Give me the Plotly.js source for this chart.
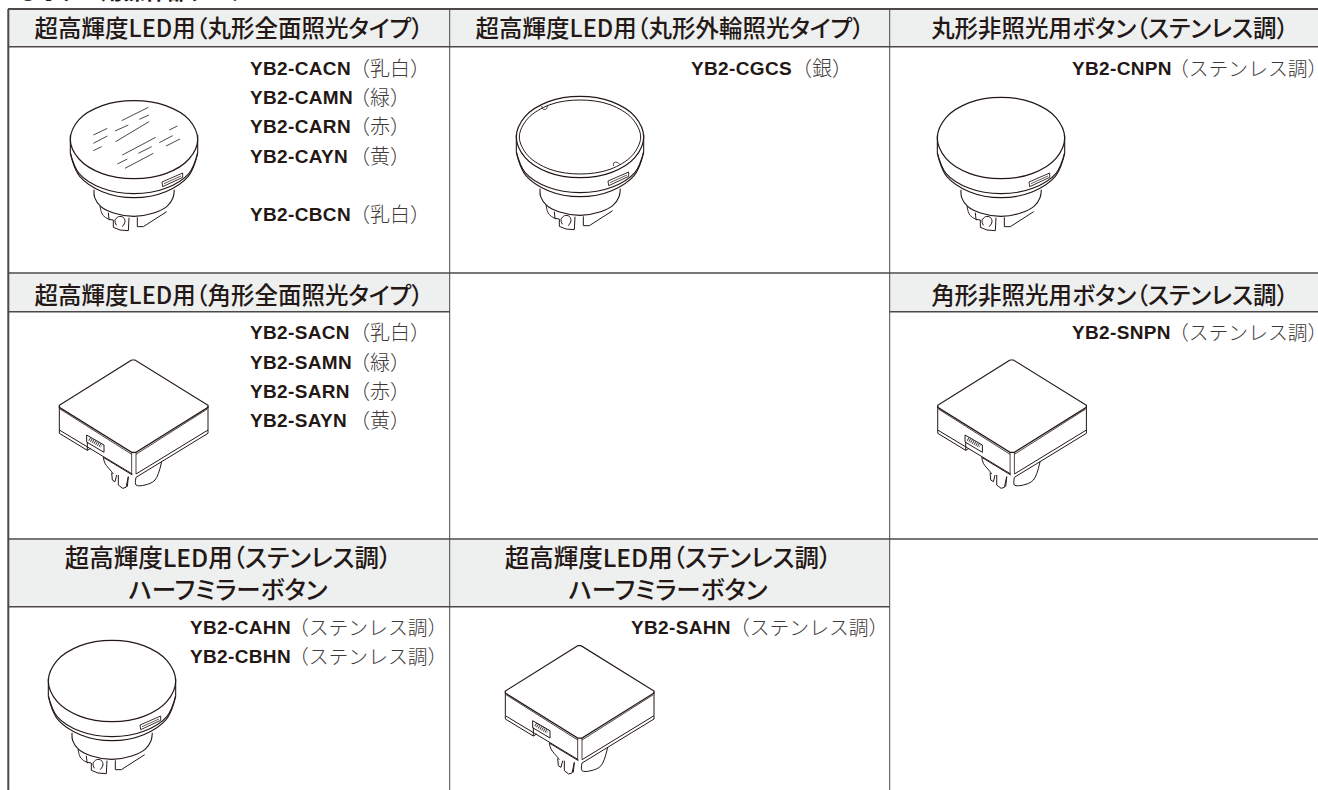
<!DOCTYPE html>
<html><head><meta charset="utf-8">
<script src="https://cdn.plot.ly/plotly-3.0.0.min.js"></script>
<style>
html,body{margin:0;padding:0;background:#fff;overflow:hidden}
#c{width:1318px;height:790px}
</style></head><body><div id="c"></div>
<script>
// ---- text ----
const pageHeading="●ボタン用操作部タイプ";
const headers=["超高輝度LED用（丸形全面照光タイプ）","超高輝度LED用（丸形外輪照光タイプ）","丸形非照光用ボタン（ステンレス調）","超高輝度LED用（角形全面照光タイプ）","角形非照光用ボタン（ステンレス調）","超高輝度LED用（ステンレス調）<br>ハーフミラーボタン","超高輝度LED用（ステンレス調）<br>ハーフミラーボタン"];
const headerX=[229,669.5,1110.3,229,1110.2,227.5,668];
const headerY=[26.5,26.5,26.5,293.5,293.5,572.5,572.5];
const headerSize=[23.5,23.5,23.5,23.5,23.5,24.5,24.5];
const codes=["YB2-CACN","YB2-CAMN","YB2-CARN","YB2-CAYN","YB2-CBCN","YB2-CGCS","YB2-CNPN","YB2-SACN","YB2-SAMN","YB2-SARN","YB2-SAYN","YB2-SNPN","YB2-CAHN","YB2-CBHN","YB2-SAHN"];
const colours=["（乳白）","（緑）","（赤）","（黄）","（乳白）","（銀）","（ステンレス調）","（乳白）","（緑）","（赤）","（黄）","（ステンレス調）","（ステンレス調）","（ステンレス調）","（ステンレス調）"];
const codeX=[248,248,248,248,248,689,1069.7,248,248,248,248,1069.7,188,188,629];
const colourX=[348,348,348,348,348,790,1167,348,348,348,348,1167,287,287,728];
const colourSize=[20,20,20,20,20,20,19.8,20,20,20,20,19.8,19.8,19.8,19.8];
const codeY=[68,97,126,156,214,68,68,332,362,391,420,332,627,656,627];

// ---- table ----
const fillX0=[8,450,890,8,890,8,450];
const fillX1=[450,890,1318,450,1318,450,890];
const fillY0=[10,10,10,274,274,540,540];
const fillY1=[47,47,47,312,312,607,607];
const hLineY=[9,46.7,273,311.7,311.7,539,606.7];
const hLineX0=[8,8,8,8,890,8,8];
const hLineX1=[1318,1318,1318,450,1318,1318,890];
const hLineW=[2,1.6,1.6,1.5,1.5,1.5,1.5];
const vLineX=[8.3,449.7,889.7];
const vLineW=[2,1,1];

// ---- round button outlines (picture units, 3 to a pixel) ----
const roundDome=[[336,391],[431,407],[501,452],[527,513],[501,574],[431,619],[336,635],[241,619],[171,574],[145,513],[171,452],[241,407],[336,391]];
const roundDomeFlat=[[336,401],[431,416],[501,458],[527,518],[501,576],[431,620],[336,635],[241,620],[171,576],[145,518],[171,458],[241,416],[336,401]];
const roundInner=[[336,402],[426,416],[493,458],[518,513],[493,568],[426,610],[336,624],[246,610],[179,568],[154,513],[179,458],[246,416],[336,402]];
const notchA=[[221,420],[226,430],[236,428],[238,418]];
const notchB=[[436,600],[438,590],[448,589],[456,596]];
const roundSideL=[[145,505],[145,558],[149,575]];
const roundSideR=[[527,505],[527,558],[523,575]];
const roundArc1=[[145,558],[171,619],[241,664],[336,680],[431,664],[501,619],[527,558]];
const roundArc2=[[149,575],[173,628],[241,674],[336,692],[431,674],[499,628],[523,575]];
const roundSlot=[[420,645],[482,618],[482,631],[422,659],[420,645]];
const roundSlotIn=[[426,650],[477,627]];
const roundStem=[[216,668],[218,692],[236,718],[275,738],[336,748],[395,738],[435,718],[453,692],[457,668]];
const roundFin=[[234,717],[242,744],[264,759]];
const roundProngL=[[259,737],[261,757],[274,759],[274,781],[294,789],[319,791],[321,752]];
const roundLoop=[[283,775],[279,760],[290,749],[304,751],[309,765],[301,779]];
const roundProngR=[[346,751],[346,779],[364,779],[434,734]];
const glare=[[[365,362],[445,322]],[[418,358],[447,345]],[[345,393],[385,375]],[[347,425],[447,365]],[[280,405],[322,385]],[[280,430],[322,408]],[[280,452],[305,440]],[[508,390],[532,378]],[[478,428],[518,407]],[[498,438],[540,417]],[[367,465],[467,412]],[[415,460],[455,440]],[[352,492],[382,477]],[[375,505],[460,460]]];

// ---- square button outlines ----
const sqTop=[[395,270],[405,270],[624,406],[624,412],[408,547],[395,547],[178,412],[178,406],[395,270]];
const sqEdgeL=[[180,417],[395,553]];
const sqEdgeR=[[408,553],[622,417]];
const sqLeft=[[178,408],[178,480],[397,612]];
const sqRight=[[624,408],[624,480],[408,612]];
const sqPostL=[[395,547],[395,612]];
const sqPostR=[[408,547],[408,612]];
const sqFlangeL=[[178,480],[178,490],[262,541],[272,535]];
const sqFlangeM=[[310,562],[397,615]];
const sqFlangeR=[[408,622],[485,575],[624,490],[624,480]];
const sqSlot=[[260,495],[312,525],[312,547],[260,516],[260,495]];
const sqStep=[[262,516],[262,541]];
const sqHatch=[[268,506],[305,528]];
const sqStemL=[[310,562],[315,580],[335,605],[340,612]];
const sqP1=[[335,608],[337,630],[345,635],[350,615]];
const sqP2=[[355,615],[355,645],[368,655],[378,652],[385,620]];
const sqP3=[[385,620],[382,650]];
const sqStemR=[[408,622],[408,645],[435,645],[465,630],[485,575]];

// ---- where each button sits ----
const roundOrigins={one:[22,-33],two:[468,-34],three:[889,-33],mirror:[0,510]};
const squareOrigins={one:[0,270],right:[878.4,270],mirror:[446,555.7]};
const ink="#231815", tableInk="#4c4948", headFill="#eeefef";

const traces=[];
function add(pts,o,w,spline){
  traces.push({type:"scatter",mode:"lines",hoverinfo:"skip",showlegend:false,
    x:pts.map(p=>o[0]+p[0]/3),y:pts.map(p=>o[1]+p[1]/3),
    line:{color:ink,width:w,shape:spline?"spline":"linear",smoothing:1}});
}
function roundButton(o,dome){
  add(dome,o,1.2,true);
  [roundSideL,roundSideR].forEach(p=>add(p,o,1.1,false));
  add(roundArc1,o,1.1,true); add(roundArc2,o,1.1,true);
  add(roundSlot,o,0.9,false); add(roundSlotIn,o,0.7,false);
  add(roundStem,o,1.1,true); add(roundFin,o,0.9,true);
  add(roundProngL,o,1,false); add(roundLoop,o,1,true); add(roundProngR,o,1,false);
}
function squareButton(o){
  add(sqTop,o,1.2,false);
  [sqEdgeL,sqEdgeR,sqPostL,sqPostR].forEach(p=>add(p,o,0.8,false));
  [sqLeft,sqRight,sqFlangeL,sqFlangeM,sqFlangeR,sqSlot,sqStep,sqP1,sqP2,sqP3].forEach(p=>add(p,o,1,false));
  add(sqStemL,o,1,true); add(sqStemR,o,1,true);
  traces.push({type:"scatter",mode:"lines",hoverinfo:"skip",showlegend:false,
    x:sqHatch.map(p=>o[0]+p[0]/3),y:sqHatch.map(p=>o[1]+p[1]/3),
    line:{color:"#444",width:4,dash:"1px,1px"}});
}
roundButton(roundOrigins.one,roundDomeFlat);
glare.forEach(g=>add(g,[0,0],0.8,false));
roundButton(roundOrigins.two,roundDome);
add(roundInner,roundOrigins.two,1,true);
add(notchA,roundOrigins.two,0.8,true); add(notchB,roundOrigins.two,0.8,true);
roundButton(roundOrigins.three,roundDome);
roundButton(roundOrigins.mirror,roundDome);
squareButton(squareOrigins.one); squareButton(squareOrigins.right); squareButton(squareOrigins.mirror);

const shapes=[];
fillX0.forEach((x,i)=>shapes.push({type:"rect",layer:"below",x0:x,x1:fillX1[i],y0:fillY0[i],y1:fillY1[i],line:{width:0},fillcolor:headFill}));
hLineY.forEach((y,i)=>shapes.push({type:"line",x0:hLineX0[i],x1:hLineX1[i],y0:y,y1:y,line:{color:tableInk,width:hLineW[i]}}));
vLineX.forEach((x,i)=>shapes.push({type:"line",x0:x,x1:x,y0:9,y1:790,line:{color:tableInk,width:vLineW[i]}}));

const annotations=[];
const cjk='"Noto Sans CJK JP"';
annotations.push({text:pageHeading,x:15/1318,y:1-6.5/790,xref:"paper",yref:"paper",xanchor:"left",yanchor:"bottom",showarrow:false,align:"left",
  font:{family:cjk,size:22,color:ink,weight:700}});
headers.forEach((t,i)=>annotations.push({text:t,x:headerX[i],y:headerY[i],xref:"x",yref:"y",xanchor:"center",yanchor:"middle",showarrow:false,
  font:{family:cjk,size:headerSize[i],color:ink,weight:500}}));
codes.forEach((t,i)=>{
  annotations.push({text:t,x:codeX[i],y:codeY[i],xref:"x",yref:"y",xanchor:"left",yanchor:"middle",showarrow:false,align:"left",
    font:{family:"Liberation Sans",size:19,color:ink,weight:700}});
  annotations.push({text:colours[i],x:colourX[i],y:codeY[i]-1,xref:"x",yref:"y",xanchor:"left",yanchor:"middle",showarrow:false,align:"left",
    font:{family:cjk,size:colourSize[i],color:"#3e3a39",weight:300}});
});

Plotly.newPlot("c",traces,{
  width:1318,height:790,margin:{l:0,r:0,t:0,b:0},paper_bgcolor:"#fff",plot_bgcolor:"#fff",showlegend:false,
  xaxis:{range:[0,1318],visible:false,fixedrange:true},
  yaxis:{range:[790,0],visible:false,fixedrange:true},
  shapes,annotations
},{displayModeBar:false,staticPlot:true}).then(()=>{
  document.querySelectorAll(".annotation-text").forEach(n=>{
    const t=n.textContent;
    if(codes.includes(t)) n.style.letterSpacing="0.35px";
    else if(!colours.includes(t)) n.style.fontFeatureSettings='"palt" 1';
  });
});
</script></body></html>
